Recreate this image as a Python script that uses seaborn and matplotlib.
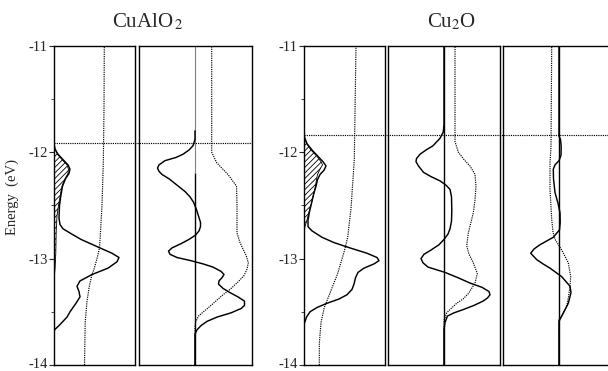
import numpy as np
import seaborn as sns
import matplotlib
matplotlib.use("Agg")
import matplotlib.pyplot as plt
import matplotlib.transforms as mtransforms

sns.set_style("ticks")
plt.rcParams['font.family'] = ['Liberation Serif', 'DejaVu Serif']
plt.rcParams['mathtext.fontset'] = 'stix'
plt.rcParams['hatch.linewidth'] = 0.6
plt.rcParams['hatch.color'] = 'black'

# ---- data (energy in eV, DOS in arbitrary units) ----
# CuAlO2, left panel
cualo2_tot_E = [-11.92, -11.97, -12.02, -12.07, -12.12, -12.16, -12.20, -12.25, -12.32, -12.40,
                -12.50, -12.62, -12.68, -12.72, -12.76, -12.82, -12.90, -12.95, -12.99, -13.03,
                -13.09, -13.15, -13.21, -13.26, -13.31, -13.36, -13.42, -13.50, -13.55, -13.62,
                -13.67, -13.70]
cualo2_tot = [0.0, 0.1, 0.4, 0.9, 1.4, 1.6, 1.5, 1.15, 0.85, 0.7,
              0.55, 0.5, 0.6, 0.9, 1.6, 2.7, 4.6, 5.8, 6.5, 6.3,
              5.4, 3.8, 2.6, 2.3, 2.5, 2.6, 2.2, 1.6, 1.3, 0.6,
              0.05, 0.0]
cualo2_part_E = [-11.95, -12.02, -12.07, -12.12, -12.16, -12.20, -12.25, -12.32, -12.40, -12.50,
                 -12.60, -12.75, -12.95, -13.10, -13.20]
cualo2_part = [0.0, 0.35, 0.8, 1.3, 1.45, 1.4, 1.1, 0.8, 0.65, 0.45,
               0.3, 0.22, 0.18, 0.1, 0.0]
cualo2_int_E = [-11.0, -11.6, -12.1, -12.5, -12.75, -12.9, -13.0, -13.1, -13.15, -13.25,
                -13.4, -13.6, -14.0]
cualo2_int = [5.03, 5.0, 4.93, 4.8, 4.65, 4.55, 4.3, 4.0, 3.8, 3.55,
              3.3, 3.12, 3.05]

# CuAlO2, right panel (overlap populations)
cualo2_coop_E = [-11.80, -11.88, -11.94, -11.98, -12.02, -12.05, -12.08, -12.12, -12.15, -12.18,
                 -12.21, -12.25, -12.31, -12.37, -12.42, -12.47, -12.54, -12.60, -12.66, -12.70,
                 -12.74, -12.78, -12.82, -12.86, -12.90, -12.93, -12.96, -12.99, -13.02, -13.05,
                 -13.08, -13.12, -13.15, -13.18, -13.21, -13.24, -13.28, -13.32, -13.36, -13.40,
                 -13.44, -13.47, -13.51, -13.55, -13.59, -13.63, -13.67, -13.71, -14.00]
cualo2_coop = [0.0, 0.0, -0.2, -0.6, -1.2, -1.9, -3.0, -3.6, -3.75, -3.6,
               -3.3, -2.6, -1.8, -1.0, -0.5, -0.15, 0.15, 0.35, 0.55, 0.55,
               0.4, 0.05, -0.6, -1.4, -2.3, -2.65, -2.5, -1.8, -0.4, 0.8,
               1.8, 2.6, 2.9, 2.7, 2.4, 2.35, 2.8, 3.5, 4.3, 4.95,
               4.95, 4.6, 3.6, 2.2, 1.2, 0.6, 0.2, 0.0, 0.0]
cualo2_icoop_E = [-11.0, -11.96, -12.0, -12.1, -12.21, -12.32, -12.5, -12.76, -12.85, -12.98,
                  -13.04, -13.1, -13.16, -13.22, -13.29, -13.34, -13.39, -13.44, -13.48, -13.54,
                  -13.6, -13.65, -14.0]
cualo2_icoop = [1.67, 1.67, 1.67, 2.17, 3.3, 4.15, 4.2, 4.2, 4.5, 5.15,
                5.33, 5.2, 4.9, 4.3, 3.5, 2.8, 2.2, 1.6, 1.1, 0.35,
                0.05, 0.0, 0.0]

# Cu2O, left panel
cu2o_tot_E = [-11.80, -11.86, -11.92, -11.98, -12.04, -12.09, -12.13, -12.17, -12.21, -12.26,
              -12.32, -12.40, -12.48, -12.56, -12.64, -12.70, -12.74, -12.80, -12.85, -12.90,
              -12.95, -12.99, -13.02, -13.05, -13.09, -13.13, -13.18, -13.24, -13.29, -13.34,
              -13.38, -13.42, -13.46, -13.50, -13.55, -13.61, -13.65]
cu2o_tot = [0.0, 0.05, 0.3, 0.8, 1.4, 1.9, 2.2, 2.0, 1.6, 1.35,
            1.2, 0.95, 0.75, 0.55, 0.4, 0.4, 0.8, 1.8, 3.0, 4.6,
            6.3, 7.3, 7.5, 7.0, 6.0, 5.4, 5.15, 5.0, 4.8, 4.3,
            3.5, 2.3, 1.3, 0.6, 0.25, 0.03, 0.0]
cu2o_part_E = [-11.85, -11.92, -11.98, -12.04, -12.09, -12.12, -12.16, -12.21, -12.26, -12.32,
               -12.40, -12.48, -12.56, -12.64, -12.70, -12.75]
cu2o_part = [0.0, 0.25, 0.7, 1.3, 1.7, 1.85, 1.6, 1.35, 1.25, 1.15,
             0.95, 0.75, 0.5, 0.3, 0.1, 0.0]
cu2o_int_E = [-11.0, -12.07, -12.53, -12.8, -12.93, -13.14, -13.3, -13.46, -13.6, -13.8, -14.0]
cu2o_int = [5.2, 5.03, 4.7, 4.37, 4.03, 3.37, 2.7, 2.03, 1.7, 1.53, 1.53]

# Cu2O, middle panel
cu2o_coop1_E = [-11.00, -11.74, -11.81, -11.87, -11.94, -11.98, -12.02, -12.06, -12.09, -12.13,
                -12.19, -12.23, -12.27, -12.31, -12.35, -12.42, -12.55, -12.65, -12.72, -12.77,
                -12.82, -12.87, -12.92, -12.96, -13.00, -13.04, -13.08, -13.13, -13.18, -13.23,
                -13.27, -13.31, -13.34, -13.37, -13.40, -13.44, -13.48, -13.51, -13.54, -13.60,
                -13.66, -14.00]
cu2o_coop1 = [0.0, 0.0, -0.07, -0.4, -1.1, -1.8, -2.4, -2.75, -2.8, -2.55,
              -2.05, -1.3, -0.4, 0.2, 0.6, 0.75, 0.78, 0.75, 0.6, 0.4,
              0.0, -0.5, -1.3, -2.0, -2.3, -2.1, -1.6, 0.1, 1.4, 2.6,
              3.8, 4.5, 4.6, 4.35, 3.9, 3.0, 1.9, 1.0, 0.35, 0.1,
              0.0, 0.0]
cu2o_icoop1_E = [-11.0, -11.9, -12.0, -12.07, -12.13, -12.21, -12.32, -12.45, -12.57, -12.76,
                 -12.88, -12.96, -13.04, -13.14, -13.23, -13.33, -13.38, -13.42, -13.47, -13.51,
                 -13.58, -14.0]
cu2o_icoop1 = [1.1, 1.1, 1.43, 2.0, 2.6, 3.1, 3.2, 3.1, 2.93, 2.43,
               2.27, 2.5, 2.93, 3.33, 3.1, 2.43, 1.9, 1.27, 0.7, 0.27,
               0.0, 0.0]

# Cu2O, right panel
cu2o_coop2_E = [-11.00, -11.85, -11.88, -11.95, -12.03, -12.08, -12.12, -12.16, -12.25, -12.38,
                -12.48, -12.57, -12.66, -12.73, -12.80, -12.87, -12.91, -12.95, -13.01, -13.05,
                -13.09, -13.17, -13.26, -13.32, -13.42, -13.48, -13.54, -13.58, -14.00]
cu2o_coop2 = [0.0, 0.0, 0.15, 0.22, 0.2, 0.0, -0.4, -0.57, -0.55, -0.4,
              -0.1, 0.1, 0.12, 0.05, -0.57, -1.9, -2.5, -2.83, -2.23, -1.6,
              -0.9, 0.27, 1.1, 1.2, 0.93, 0.6, 0.27, 0.0, 0.0]
cu2o_icoop2_E = [-11.0, -11.95, -12.1, -12.35, -12.63, -12.75, -12.82, -12.92, -13.04, -13.17,
                 -13.26, -13.36, -13.45, -13.54, -13.6, -14.0]
cu2o_icoop2 = [-0.73, -0.8, -0.9, -0.9, -0.73, -0.6, -0.4, 0.27, 0.93, 1.17,
               1.1, 0.95, 0.77, 0.27, 0.0, 0.0]

fermi_cualo2 = -11.917
fermi_cu2o = -11.839
yticks = [-11, -12, -13, -14]

# ---- figure ----
W, H = 608, 371
fig = plt.figure(figsize=(W / 100, H / 100), dpi=100)


def px_axes(x0, x1, y0=45.7, y1=365):
    return fig.add_axes([x0 / W, 1 - y1 / H, (x1 - x0) / W, (y1 - y0) / H])


ax1 = px_axes(54, 135)
ax2 = px_axes(138.5, 251.5)
ax3 = px_axes(304, 384.5)
ax4 = px_axes(387.5, 499.5)
ax5 = px_axes(503, 616)
axes = [ax1, ax2, ax3, ax4, ax5]

solid = dict(color='black', linewidth=1.05, estimator=None, orient='y', sort=True)
dotted = dict(color='black', linewidth=0.85, linestyle=(0, (1, 0.9)),
              estimator=None, orient='y', sort=True)

# CuAlO2
sns.lineplot(x=np.array(cualo2_int), y=np.array(cualo2_int_E), ax=ax1, **dotted)
ax1.fill_betweenx(cualo2_part_E, 0, cualo2_part, facecolor='none', edgecolor='black',
                  hatch='//////', linewidth=0)
sns.lineplot(x=np.array(cualo2_part), y=np.array(cualo2_part_E), ax=ax1,
             color='black', linewidth=0.6, estimator=None, orient='y', sort=True)
sns.lineplot(x=np.array(cualo2_tot), y=np.array(cualo2_tot_E), ax=ax1, **solid)

ax2.axvline(0, ymin=0, ymax=0.6, color='black', linewidth=1.0)
ax2.axvline(0, ymin=0.6, ymax=1, color='0.5', linewidth=0.8)
sns.lineplot(x=np.array(cualo2_icoop), y=np.array(cualo2_icoop_E), ax=ax2, **dotted)
sns.lineplot(x=np.array(cualo2_coop), y=np.array(cualo2_coop_E), ax=ax2, **solid)

# Cu2O
sns.lineplot(x=np.array(cu2o_int), y=np.array(cu2o_int_E), ax=ax3, **dotted)
ax3.fill_betweenx(cu2o_part_E, 0, cu2o_part, facecolor='none', edgecolor='black',
                  hatch='//////', linewidth=0)
sns.lineplot(x=np.array(cu2o_part), y=np.array(cu2o_part_E), ax=ax3,
             color='black', linewidth=0.6, estimator=None, orient='y', sort=True)
sns.lineplot(x=np.array(cu2o_tot), y=np.array(cu2o_tot_E), ax=ax3, **solid)

ax4.axvline(0, color='black', linewidth=1.0)
sns.lineplot(x=np.array(cu2o_icoop1), y=np.array(cu2o_icoop1_E), ax=ax4, **dotted)
sns.lineplot(x=np.array(cu2o_coop1), y=np.array(cu2o_coop1_E), ax=ax4, **solid)

ax5.axvline(0, color='black', linewidth=1.0)
sns.lineplot(x=np.array(cu2o_icoop2), y=np.array(cu2o_icoop2_E), ax=ax5, **dotted)
sns.lineplot(x=np.array(cu2o_coop2), y=np.array(cu2o_coop2_E), ax=ax5, **solid)

xlims = [(0, 8.1), (-5.65, 5.65), (0, 8.05), (-5.65, 5.55), (-5.6, 5.7)]
shift_up = mtransforms.ScaledTranslation(0, 2.5 / 100, fig.dpi_scale_trans)
for ax, xl in zip(axes, xlims):
    ax.set_xlim(*xl)
    ax.set_ylim(-14, -11)
    ax.set_xticks([])
    ax.set_xlabel('')
    ax.set_ylabel('')
    for s in ax.spines.values():
        s.set_linewidth(1.0)
        s.set_color('black')
    if ax in (ax1, ax3):
        ax.set_yticks(yticks)
        ax.set_yticklabels([str(t) for t in yticks])
        ax.set_yticks([-11.5, -12.5, -13.5], minor=True)
        ax.tick_params(axis='y', which='major', direction='out', length=3.5,
                       width=0.8, pad=1, labelsize=10.5)
        ax.tick_params(axis='y', which='minor', direction='out', length=2, width=0.6)
        # keep the bottom label inside the picture
        lbl = ax.get_yticklabels()[-1]
        lbl.set_transform(lbl.get_transform() + shift_up)
    else:
        ax.set_yticks([])

# Fermi levels drawn across the panels
tr1 = mtransforms.blended_transform_factory(fig.transFigure, ax1.transData)
fig.add_artist(plt.Line2D([54 / W, 251.5 / W], [fermi_cualo2, fermi_cualo2], transform=tr1,
                          color='black', linewidth=0.85, linestyle=(0, (1, 0.9))))
tr3 = mtransforms.blended_transform_factory(fig.transFigure, ax3.transData)
fig.add_artist(plt.Line2D([304 / W, 1.0], [fermi_cu2o, fermi_cu2o], transform=tr3,
                          color='black', linewidth=0.85, linestyle=(0, (1, 0.9))))

fig.text(148 / W, 1 - 22 / H, 'CuAlO$_{\\,2}$', ha='center', va='center', fontsize=15)
fig.text(452 / W, 1 - 22 / H, 'Cu$_2$O', ha='center', va='center', fontsize=15)
fig.text(12 / W, 1 - 197 / H, 'Energy  (eV)', rotation=90, ha='center', va='center',
         fontsize=10.5)

fig.savefig('out.png', dpi=100)
